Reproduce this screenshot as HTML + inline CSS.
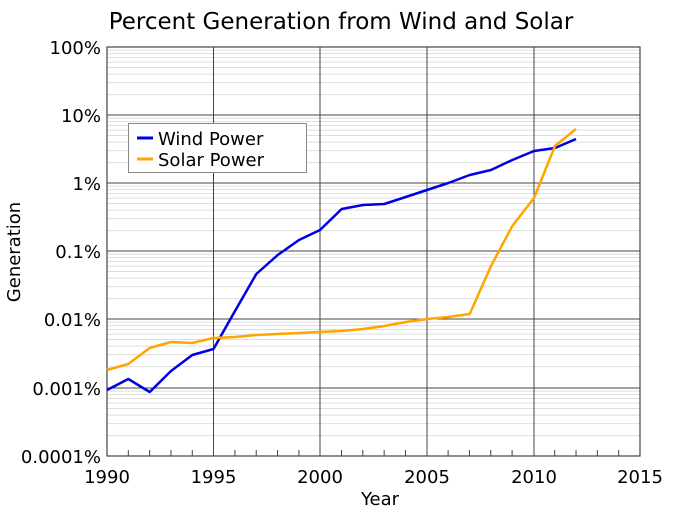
<!DOCTYPE html>
<html><head><meta charset="utf-8"><style>body{margin:0;background:#fff}svg{display:block}text{font-family:"DejaVu Sans","Liberation Sans",sans-serif;fill:#000}</style></head>
<body>
<svg width="683" height="512" viewBox="0 0 683 512" xmlns="http://www.w3.org/2000/svg">
<rect width="683" height="512" fill="#fff"/>
<g id="minor" stroke="#ddd" stroke-width="1"></g>
<g stroke="#444" stroke-width="1">
<line x1="107" y1="115" x2="640" y2="115"/><line x1="107" y1="183" x2="640" y2="183"/><line x1="107" y1="251" x2="640" y2="251"/><line x1="107" y1="319" x2="640" y2="319"/><line x1="107" y1="388" x2="640" y2="388"/>
<line x1="213.5" y1="47" x2="213.5" y2="456"/><line x1="320" y1="47" x2="320" y2="456"/><line x1="427" y1="47" x2="427" y2="456"/><line x1="534" y1="47" x2="534" y2="456"/>
</g>
<g id="ticks" stroke="#444" stroke-width="1"></g>
<rect x="107" y="47" width="533" height="409" fill="none" stroke="#444" stroke-width="1.2"/>
<polyline fill="none" stroke="#0000e6" stroke-width="2.5" stroke-linejoin="round" points="107,390 128.3,379 149.7,392 171,371 192.3,355 213.5,349 235,311 256.3,274 277.7,255 299,240 320,230 341.7,209 363,205 384.3,204 405.7,197 427,190 448.3,183 469.7,175 491,170 512.3,160 534,151 555,148 576,139"/>
<polyline fill="none" stroke="#ffa500" stroke-width="2.5" stroke-linejoin="round" points="107,370 128.3,364 149.7,348 171,342 192.3,343 213.5,338 235,337 256.3,335 277.7,334 299,333 320,332 341.7,331 363,329 384.3,326 405.7,322 427,319 448.3,317 469.7,314 491,266 512.3,226 534,198 555,146 576,129"/>
<rect x="128.5" y="123.5" width="178" height="49" fill="#fff" stroke="#888"/>
<line x1="137" y1="138" x2="153" y2="138" stroke="#0000e6" stroke-width="3"/>
<line x1="137" y1="159" x2="153" y2="159" stroke="#ffa500" stroke-width="3"/>
<text x="158" y="145" font-size="18">Wind Power</text>
<text x="158" y="166" font-size="18">Solar Power</text>
<text x="341" y="29" font-size="23" text-anchor="middle">Percent Generation from Wind and Solar</text>
<g font-size="18" text-anchor="end">
<text x="101" y="54">100%</text><text x="101" y="122">10%</text><text x="101" y="190">1%</text><text x="101" y="258">0.1%</text><text x="101" y="326">0.01%</text><text x="101" y="395">0.001%</text><text x="101" y="463">0.0001%</text>
</g>
<g font-size="18" text-anchor="middle">
<text x="107" y="483">1990</text><text x="213.5" y="483">1995</text><text x="320" y="483">2000</text><text x="427" y="483">2005</text><text x="534" y="483">2010</text><text x="640" y="483">2015</text>
<text x="380" y="505">Year</text>
<text transform="translate(20,252) rotate(-90)">Generation</text>
</g>
<script>
var m=document.getElementById('minor'),t=document.getElementById('ticks'),ns='http://www.w3.org/2000/svg';
function L(g,a,b,c,d){var l=document.createElementNS(ns,'line');l.setAttribute('x1',a);l.setAttribute('y1',b);l.setAttribute('x2',c);l.setAttribute('y2',d);g.appendChild(l);}
var tops=[47,115,183,251,319,388];
for(var i=0;i<6;i++){var base=tops[i]+68.17;for(var k=2;k<10;k++){var y=base-68.17*Math.log10(k);L(m,107,y,640,y);}}
for(var yr=1991;yr<2015;yr++){if(yr%5==0)continue;var x=107+(yr-1990)*21.32;L(t,x,456,x,450);}
</script>
</svg>
</body></html>
